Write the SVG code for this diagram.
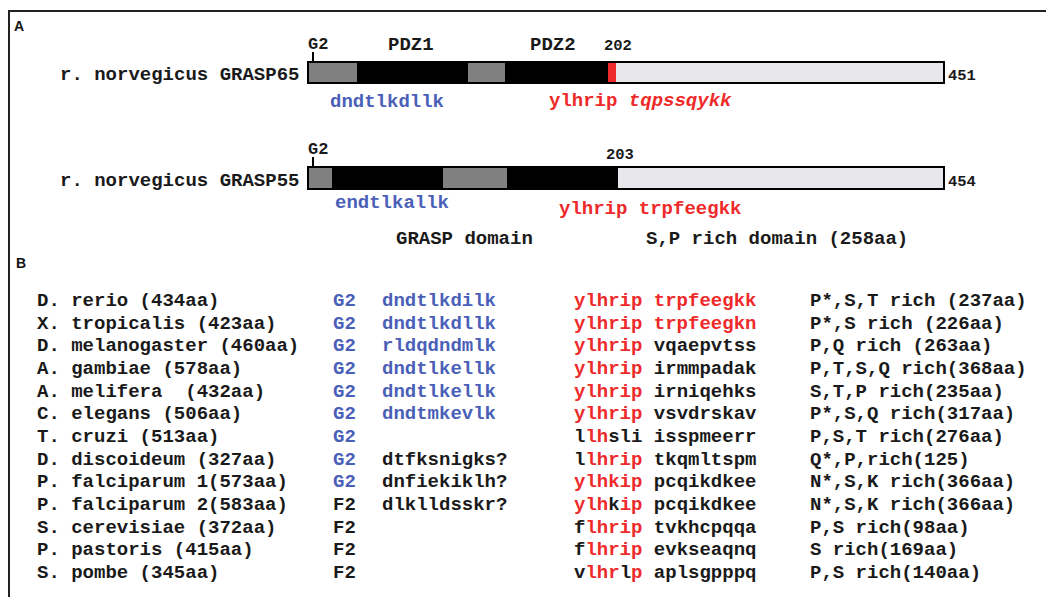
<svg xmlns="http://www.w3.org/2000/svg" width="1046" height="597" viewBox="0 0 1046 597">
<style>
.m{font-family:"Liberation Mono","Courier New",monospace;font-weight:bold;font-size:19px;fill:#1a1a1a;white-space:pre}
.n{font-family:"Liberation Mono","Courier New",monospace;font-weight:bold;font-size:15.5px;fill:#1a1a1a}
.g{font-family:"Liberation Mono","Courier New",monospace;font-weight:bold;font-size:17px;fill:#1a1a1a}
.h{font-family:"Liberation Sans",Arial,sans-serif;font-weight:bold;font-size:14px;fill:#111}
.b{fill:#4a60b8}
.r{fill:#ee2a2a}
.k{fill:#1a1a1a}
.gray{fill:#808080}
.blk{fill:#000}
.frame{stroke:#222;stroke-width:2;fill:none}
.tick{stroke:#000;stroke-width:2}
</style>
<rect width="1046" height="597" fill="#fff"/>
<path class="frame" d="M9,597 V11 H1046"/>
<text class="h" x="14" y="31">A</text>
<text class="h" x="16" y="268">B</text>

<g id="grasp65">
  <text class="m" x="60" y="80">r. norvegicus GRASP65</text>
  <rect x="308" y="62" width="636" height="21" fill="#e8e8ec" stroke="#000" stroke-width="2"/>
  <rect class="gray" x="308" y="62" width="49" height="21"/>
  <rect class="blk" x="357" y="62" width="111" height="21"/>
  <rect class="gray" x="468" y="62" width="37" height="21"/>
  <rect class="blk" x="505" y="62" width="103" height="21"/>
  <rect class="r" x="608" y="62" width="8" height="21"/>
  <rect x="308" y="62" width="636" height="21" fill="none" stroke="#000" stroke-width="2"/>
  <text class="g" x="308" y="49">G2</text>
  <text class="m" x="388" y="50">PDZ1</text>
  <text class="m" x="530" y="50">PDZ2</text>
  <text class="n" x="604" y="50">202</text>
  <text class="n" x="948" y="80">451</text>
  <text class="m b" x="330" y="107">dndtlkdllk</text>
  <text class="m r" x="549" y="106">ylhrip <tspan font-style="italic">tqpssqykk</tspan></text>
</g>

<g id="grasp55">
  <text class="m" x="60" y="186">r. norvegicus GRASP55</text>
  <rect x="308" y="167" width="636" height="22" fill="#e8e8ec" stroke="#000" stroke-width="2"/>
  <rect class="gray" x="308" y="167" width="24" height="22"/>
  <rect class="blk" x="332" y="167" width="111" height="22"/>
  <rect class="gray" x="443" y="167" width="64" height="22"/>
  <rect class="blk" x="507" y="167" width="111" height="22"/>
  <rect x="308" y="167" width="636" height="22" fill="none" stroke="#000" stroke-width="2"/>
  <text class="g" x="308" y="154">G2</text>
  <text class="n" x="606" y="159">203</text>
  <text class="n" x="948" y="186">454</text>
  <text class="m b" x="335" y="208">endtlkallk</text>
  <text class="m r" x="559" y="214">ylhrip trpfeegkk</text>
  <text class="m" x="396" y="244">GRASP domain</text>
  <text class="m" x="646" y="244">S,P rich domain (258aa)</text>
</g>

<g id="connectors">
  <line class="tick" x1="313" y1="52" x2="313" y2="62"/>
  <line class="tick" x1="313" y1="157" x2="313" y2="167"/>
</g>

<g id="table">
  <g id="col-species">
    <text class="m" x="37" y="306">D. rerio (434aa)</text>
    <text class="m" x="37" y="328.7">X. tropicalis (423aa)</text>
    <text class="m" x="37" y="351.3">D. melanogaster (460aa)</text>
    <text class="m" x="37" y="374">A. gambiae (578aa)</text>
    <text class="m" x="37" y="396.7">A. melifera  (432aa)</text>
    <text class="m" x="37" y="419.3">C. elegans (506aa)</text>
    <text class="m" x="37" y="442">T. cruzi (513aa)</text>
    <text class="m" x="37" y="464.7">D. discoideum (327aa)</text>
    <text class="m" x="37" y="487.3">P. falciparum 1(573aa)</text>
    <text class="m" x="37" y="510">P. falciparum 2(583aa)</text>
    <text class="m" x="37" y="532.7">S. cerevisiae (372aa)</text>
    <text class="m" x="37" y="555.3">P. pastoris (415aa)</text>
    <text class="m" x="37" y="578">S. pombe (345aa)</text>
  </g>
  <g id="col-motif">
    <text class="m b" x="333" y="306">G2</text>
    <text class="m b" x="333" y="328.7">G2</text>
    <text class="m b" x="333" y="351.3">G2</text>
    <text class="m b" x="333" y="374">G2</text>
    <text class="m b" x="333" y="396.7">G2</text>
    <text class="m b" x="333" y="419.3">G2</text>
    <text class="m b" x="333" y="442">G2</text>
    <text class="m b" x="333" y="464.7">G2</text>
    <text class="m b" x="333" y="487.3">G2</text>
    <text class="m" x="333" y="510">F2</text>
    <text class="m" x="333" y="532.7">F2</text>
    <text class="m" x="333" y="555.3">F2</text>
    <text class="m" x="333" y="578">F2</text>
  </g>
  <g id="col-seq1">
    <text class="m b" x="382" y="306">dndtlkdilk</text>
    <text class="m b" x="382" y="328.7">dndtlkdllk</text>
    <text class="m b" x="382" y="351.3">rldqdndmlk</text>
    <text class="m b" x="382" y="374">dndtlkellk</text>
    <text class="m b" x="382" y="396.7">dndtlkellk</text>
    <text class="m b" x="382" y="419.3">dndtmkevlk</text>
    <text class="m" x="382" y="464.7">dtfksnigks?</text>
    <text class="m" x="382" y="487.3">dnfiekiklh?</text>
    <text class="m" x="382" y="510">dlklldsskr?</text>
  </g>
  <g id="col-seq2">
    <text class="m r" x="574" y="306">ylhrip trpfeegkk</text>
    <text class="m r" x="574" y="328.7">ylhrip trpfeegkn</text>
    <text class="m" x="574" y="351.3"><tspan class="r">ylhrip</tspan> vqaepvtss</text>
    <text class="m" x="574" y="374"><tspan class="r">ylhrip</tspan> irmmpadak</text>
    <text class="m" x="574" y="396.7"><tspan class="r">ylhrip</tspan> irniqehks</text>
    <text class="m" x="574" y="419.3"><tspan class="r">ylhrip</tspan> vsvdrskav</text>
    <text class="m" x="574" y="442">l<tspan class="r">lh</tspan>sli isspmeerr</text>
    <text class="m" x="574" y="464.7">l<tspan class="r">lhrip</tspan> tkqmltspm</text>
    <text class="m" x="574" y="487.3"><tspan class="r">ylhkip</tspan> pcqikdkee</text>
    <text class="m" x="574" y="510"><tspan class="r">ylh</tspan>k<tspan class="r">ip</tspan> pcqikdkee</text>
    <text class="m" x="574" y="532.7">f<tspan class="r">lhrip</tspan> tvkhcpqqa</text>
    <text class="m" x="574" y="555.3">f<tspan class="r">lhrip</tspan> evkseaqnq</text>
    <text class="m" x="574" y="578">v<tspan class="r">lhr</tspan>l<tspan class="r">p</tspan> aplsgpppq</text>
  </g>
  <g id="col-rich">
    <text class="m" x="810" y="306">P*,S,T rich (237aa)</text>
    <text class="m" x="810" y="328.7">P*,S rich (226aa)</text>
    <text class="m" x="810" y="351.3">P,Q rich (263aa)</text>
    <text class="m" x="810" y="374">P,T,S,Q rich(368aa)</text>
    <text class="m" x="810" y="396.7">S,T,P rich(235aa)</text>
    <text class="m" x="810" y="419.3">P*,S,Q rich(317aa)</text>
    <text class="m" x="810" y="442">P,S,T rich(276aa)</text>
    <text class="m" x="810" y="464.7">Q*,P,rich(125)</text>
    <text class="m" x="810" y="487.3">N*,S,K rich(366aa)</text>
    <text class="m" x="810" y="510">N*,S,K rich(366aa)</text>
    <text class="m" x="810" y="532.7">P,S rich(98aa)</text>
    <text class="m" x="810" y="555.3">S rich(169aa)</text>
    <text class="m" x="810" y="578">P,S rich(140aa)</text>
  </g>
</g>
</svg>
